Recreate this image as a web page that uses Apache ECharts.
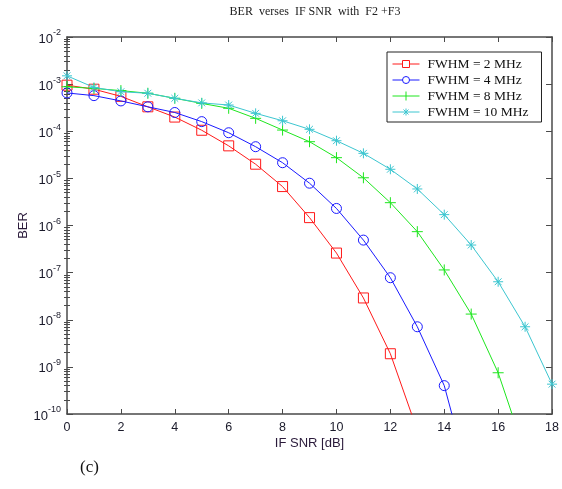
<!DOCTYPE html>
<html>
<head>
<meta charset="utf-8">
<script src="https://cdn.jsdelivr.net/npm/echarts@6/dist/echarts.min.js"></script>
<style>html,body{margin:0;padding:0;background:#fff}#c{width:562px;height:489px}</style>
</head>
<body>
<div id="c"></div>
<script>
// ---- data ----
const snr = [0,1,2,3,4,5,6,7,8,9,10,11,12,13,14,15,16,17,18];
const xTicks = [0,2,4,6,8,10,12,14,16,18];
const seriesNames = ['FWHM = 2 MHz','FWHM = 4 MHz','FWHM = 8 MHz','FWHM = 10 MHz'];
const ber2MHz  = [9.5e-4,7.8e-4,5.5e-4,3.3e-4,2.0e-4,1.05e-4,4.9e-5,2.0e-5,6.7e-6,1.47e-6,2.6e-7,2.9e-8,1.9e-9,4.5e-11];
const ber4MHz  = [6.5e-4,5.7e-4,4.4e-4,3.3e-4,2.5e-4,1.6e-4,9.3e-5,4.7e-5,2.15e-5,7.9e-6,2.3e-6,4.9e-7,7.8e-8,7.1e-9,4.0e-10,3e-12];
const ber8MHz  = [8.8e-4,8.1e-4,7.3e-4,6.4e-4,5.0e-4,3.9e-4,3.07e-4,1.88e-4,1.06e-4,6.0e-5,2.75e-5,1.03e-5,3.05e-6,7.4e-7,1.14e-7,1.32e-8,7.5e-10,1.5e-11];
const ber10MHz = [1.5e-3,8.5e-4,6.9e-4,6.4e-4,5.0e-4,4.0e-4,3.6e-4,2.4e-4,1.67e-4,1.1e-4,6.3e-5,3.4e-5,1.56e-5,5.96e-6,1.7e-6,3.85e-7,6.4e-8,7.1e-9,4.3e-10];
const yDecades = [1e-10,1e-9,1e-8,1e-7,1e-6,1e-5,1e-4,1e-3,1e-2];

// ---- styling ----
const colors = ['#ff1a1a','#1a1aff','#1ee61e','#3cc6d0'];
const symbols = [
  'rect',
  'circle',
  'path://M5,0L5,10M0,5L10,5',
  'path://M5,0L5,10M0,5L10,5M1.6,1.6L8.4,8.4M8.4,1.6L1.6,8.4'
];
const symbolSizes = [10,10,11,10];
// legend icons: line with marker in the middle (27 x 10 box)
const frame = 'M0,0L0,0M27,10L27,10';
const legendIcons = [
  'path://' + frame + 'M0,5L10,5M17,5L27,5M10,1.5L17,1.5L17,8.5L10,8.5Z',
  'path://' + frame + 'M0,5L10,5M17,5L27,5M17,5A3.5,3.5,0,1,1,10,5A3.5,3.5,0,1,1,17,5Z',
  'path://' + frame + 'M0,5L27,5M13.5,0.5L13.5,9.5',
  'path://' + frame + 'M0,5L27,5M13.5,1.5L13.5,8.5M11,2.5L16,7.5M16,2.5L11,7.5'
];
const allData = [ber2MHz, ber4MHz, ber8MHz, ber10MHz];

const minorTicks = [];
for (let e = -10; e < -2; e++) {
  for (let m = 2; m <= 9; m++) minorTicks.push(m * Math.pow(10, e));
}

const axisColor = '#4a4a4a';
const labelFont = 'Liberation Sans, Arial, sans-serif';
const serif = 'Liberation Serif, Times New Roman, serif';

const series = allData.map((arr, k) => ({
  name: seriesNames[k],
  type: 'line',
  data: arr.map((v, i) => [snr[i], v]),
  xAxisIndex: 0,
  yAxisIndex: 0,
  symbol: symbols[k],
  symbolSize: symbolSizes[k],
  symbolKeepAspect: true,
  showAllSymbol: true,
  clip: true,
  lineStyle: { color: colors[k], width: 1 },
  itemStyle: { color: 'rgba(0,0,0,0)', borderColor: colors[k], borderWidth: 1 },
  emphasis: { disabled: true },
  animation: false,
  z: 3 + k
}));

const logAxisBase = {
  type: 'log', logBase: 10, min: 1e-10, max: 1e-2, gridIndex: 0
};

const chart = echarts.init(document.getElementById('c'), null, { renderer: 'canvas' });
chart.setOption({
  animation: false,
  backgroundColor: '#fff',
  title: {
    text: 'BER  verses  IF SNR  with  F2 +F3',
    left: 310, top: 1, textAlign: 'center',
    textStyle: { fontFamily: serif, fontSize: 12, fontWeight: 'normal', color: '#222' }
  },
  grid: { left: 67, right: 9, top: 37, bottom: 75, show: false },
  legend: {
    data: seriesNames.map((n, k) => ({
      name: n, icon: legendIcons[k],
      itemStyle: { color: 'rgba(0,0,0,0)', borderColor: colors[k], borderWidth: 1 }
    })),
    orient: 'vertical',
    left: 387, top: 52,
    itemWidth: 27, itemHeight: 10, itemGap: 2,
    padding: [5, 13, 3, 5],
    borderColor: '#222', borderWidth: 1, backgroundColor: '#fff',
    selectedMode: false,
    textStyle: { fontFamily: serif, fontSize: 13.5, color: '#111', lineHeight: 14, padding: [0, 0, 0, 3] }
  },
  xAxis: [
    {
      type: 'value', min: 0, max: 18, interval: 2, gridIndex: 0, position: 'bottom',
      name: 'IF SNR [dB]', nameLocation: 'middle', nameGap: 23, nameMoveOverlap: false,
      nameTextStyle: { fontFamily: labelFont, fontSize: 13, color: '#2a1a3a' },
      axisLine: { show: true, onZero: false, lineStyle: { color: axisColor, width: 1.5 } },
      axisTick: { show: true, inside: true, length: 5, lineStyle: { color: axisColor } },
      axisLabel: { fontFamily: labelFont, fontSize: 12.5, color: '#1a1a2a', margin: 7,
        customValues: xTicks },
      splitLine: { show: false }
    },
    {
      type: 'value', min: 0, max: 18, interval: 2, gridIndex: 0, position: 'top',
      axisLine: { show: true, onZero: false, lineStyle: { color: axisColor, width: 1.5 } },
      axisTick: { show: true, inside: true, length: 5, lineStyle: { color: axisColor } },
      axisLabel: { show: false },
      splitLine: { show: false }
    }
  ],
  yAxis: [
    Object.assign({}, logAxisBase, {
      position: 'left',
      name: 'BER', nameLocation: 'middle', nameGap: 44, nameRotate: 90, nameMoveOverlap: false,
      nameTextStyle: { fontFamily: labelFont, fontSize: 13, color: '#2a1a3a', verticalAlign: 'middle' },
      axisLine: { show: true, onZero: false, lineStyle: { color: axisColor, width: 1.5 } },
      axisTick: { show: true, inside: true, length: 6, lineStyle: { color: axisColor }, customValues: yDecades },
      axisLabel: {
        customValues: yDecades,
        margin: 6,
        formatter: v => '{b|10}{s|' + Math.round(Math.log10(v)) + '}',
        rich: {
          b: { fontFamily: labelFont, fontSize: 13, color: '#1a1a2a', verticalAlign: 'bottom' },
          s: { fontFamily: labelFont, fontSize: 9, color: '#1a1a2a', verticalAlign: 'bottom', padding: [0, 0, 8, 0] }
        }
      },
      splitLine: { show: false },
      minorTick: { show: false }
    }),
    Object.assign({}, logAxisBase, {
      position: 'right',
      axisLine: { show: true, onZero: false, lineStyle: { color: axisColor, width: 1.5 } },
      axisTick: { show: true, inside: true, length: 6, lineStyle: { color: axisColor }, customValues: yDecades },
      axisLabel: { show: false },
      splitLine: { show: false }
    }),
    Object.assign({}, logAxisBase, {
      position: 'left',
      axisLine: { show: false },
      axisTick: { show: true, inside: true, length: 3, lineStyle: { color: axisColor }, customValues: minorTicks },
      axisLabel: { show: false },
      splitLine: { show: false }
    }),
    Object.assign({}, logAxisBase, {
      position: 'right',
      axisLine: { show: false },
      axisTick: { show: true, inside: true, length: 3, lineStyle: { color: axisColor }, customValues: minorTicks },
      axisLabel: { show: false },
      splitLine: { show: false }
    })
  ],
  graphic: [
    {
      type: 'text', left: 80, top: 459,
      style: { text: '(c)', fontFamily: serif, fontSize: 17, fill: '#111' }
    }
  ],
  series: series
});
</script>
</body>
</html>
